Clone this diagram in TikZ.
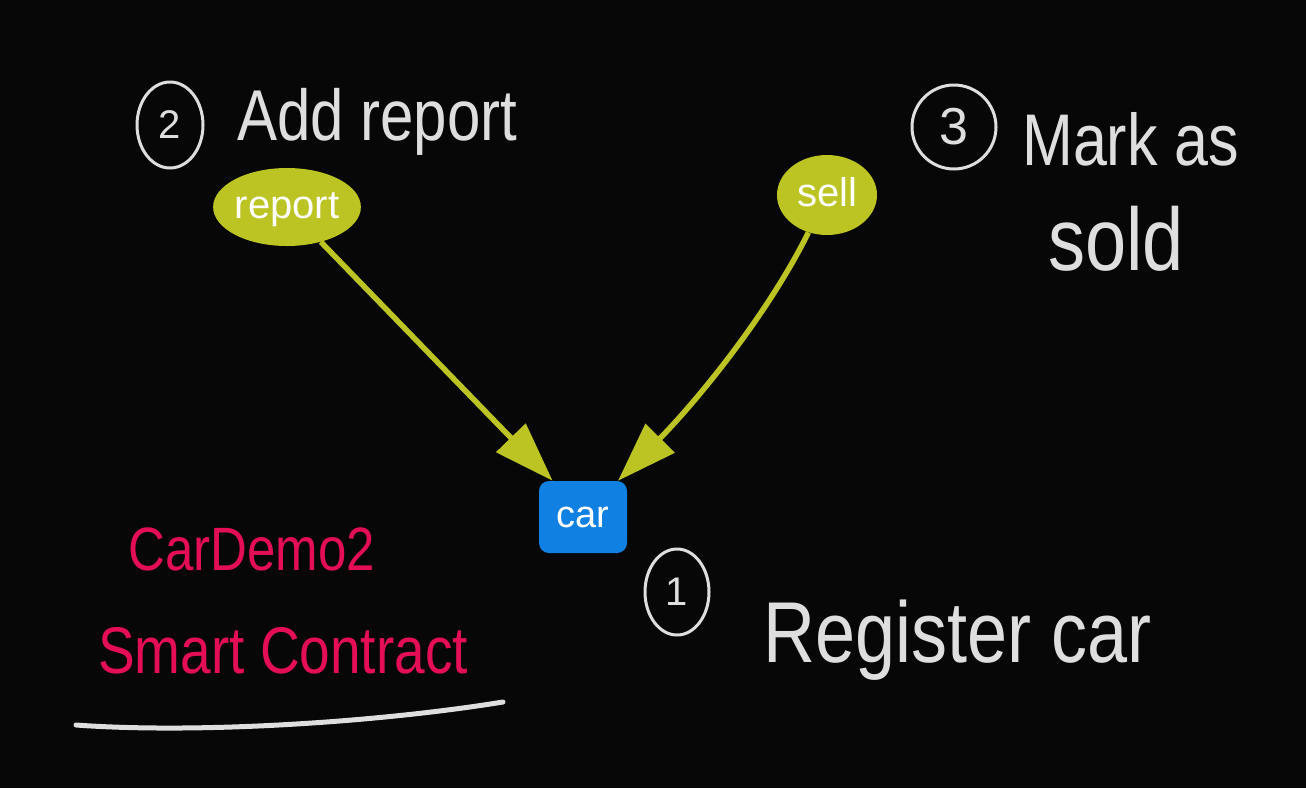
\documentclass[tikz,border=0pt]{standalone}
\usepackage{fontspec}
\setmainfont{Liberation Sans}
\usetikzlibrary{arrows.meta,shapes.geometric}
\definecolor{bg}{RGB}{7,7,7}
\definecolor{olive}{RGB}{187,196,34}
\definecolor{carblue}{RGB}{16,128,226}
\definecolor{chalk}{RGB}{222,222,222}
\definecolor{ink}{RGB}{228,14,86}
\newcommand{\tallhand}[1]{\scalebox{1}[1.2]{#1}}
\begin{document}
\begin{tikzpicture}[x=1pt,y=-1pt,
  oval/.style={ellipse, fill=olive, text=white, inner sep=0pt, font=\fontsize{40}{40}\selectfont,
     text height=29pt, text depth=6pt},
  carbox/.style={rectangle, rounded corners=10pt, fill=carblue, text=white, inner sep=0pt,
     minimum width=88pt, minimum height=72pt, font=\fontsize{38}{38}\selectfont,
     text height=27pt, text depth=6pt},
  link/.style={draw=olive, line width=5.5pt, -{Triangle[length=60pt,width=40pt]}},
  hand/.style={text=chalk, inner sep=0pt, anchor=base west},
  redhand/.style={text=ink, inner sep=0pt, anchor=base west},
  numcirc/.style={ellipse, draw=chalk, line width=3pt, text=chalk, inner sep=0pt}
]
\fill[bg] (0,0) rectangle (1306,788);
\useasboundingbox (0,0) rectangle (1306,788);

% main nodes
\node[oval, minimum width=144pt, minimum height=78pt] (report) at (287,207) {report};
\node[oval, minimum width=100pt, minimum height=80pt] (sell) at (827,195) {sell};
\node[carbox] (car) at (583,517) {car};

% connectors
\draw[link] (report) -- (car.130);
\draw[link] (sell) .. controls (766,318) and (693,405) .. (car.46);

% handwritten annotations
\node[numcirc, minimum width=66pt, minimum height=86pt, font=\fontsize{40}{40}\selectfont] (n2) at (170,125) {2};
\node[hand, font=\fontsize{60}{60}\selectfont] (addrep) at (237,140) {\tallhand{Add report}};

\node[numcirc, minimum width=84pt, minimum height=84pt, font=\fontsize{52}{52}\selectfont] (n3) at (954,127) {3};
\node[hand, font=\fontsize{61}{61}\selectfont] (mark) at (1022,165) {\tallhand{Mark as}};
\node[hand, font=\fontsize{74}{74}\selectfont] (sold) at (1048,270) {\tallhand{sold}};

\node[numcirc, minimum width=64pt, minimum height=86pt, font=\fontsize{40}{40}\selectfont] (n1) at (677,592) {1};
\node[hand, font=\fontsize{72}{72}\selectfont] (regcar) at (763,662) {\tallhand{Register car}};

\node[redhand, font=\fontsize{51}{51}\selectfont] (demo) at (128,570) {\tallhand{CarDemo2}};
\node[redhand, font=\fontsize{55}{55}\selectfont] (smart) at (98,673) {\tallhand{Smart Contract}};

\draw[chalk, line width=5pt, line cap=round] (76,725) .. controls (200,734) and (380,722) .. (503,702);
\end{tikzpicture}
\end{document}
